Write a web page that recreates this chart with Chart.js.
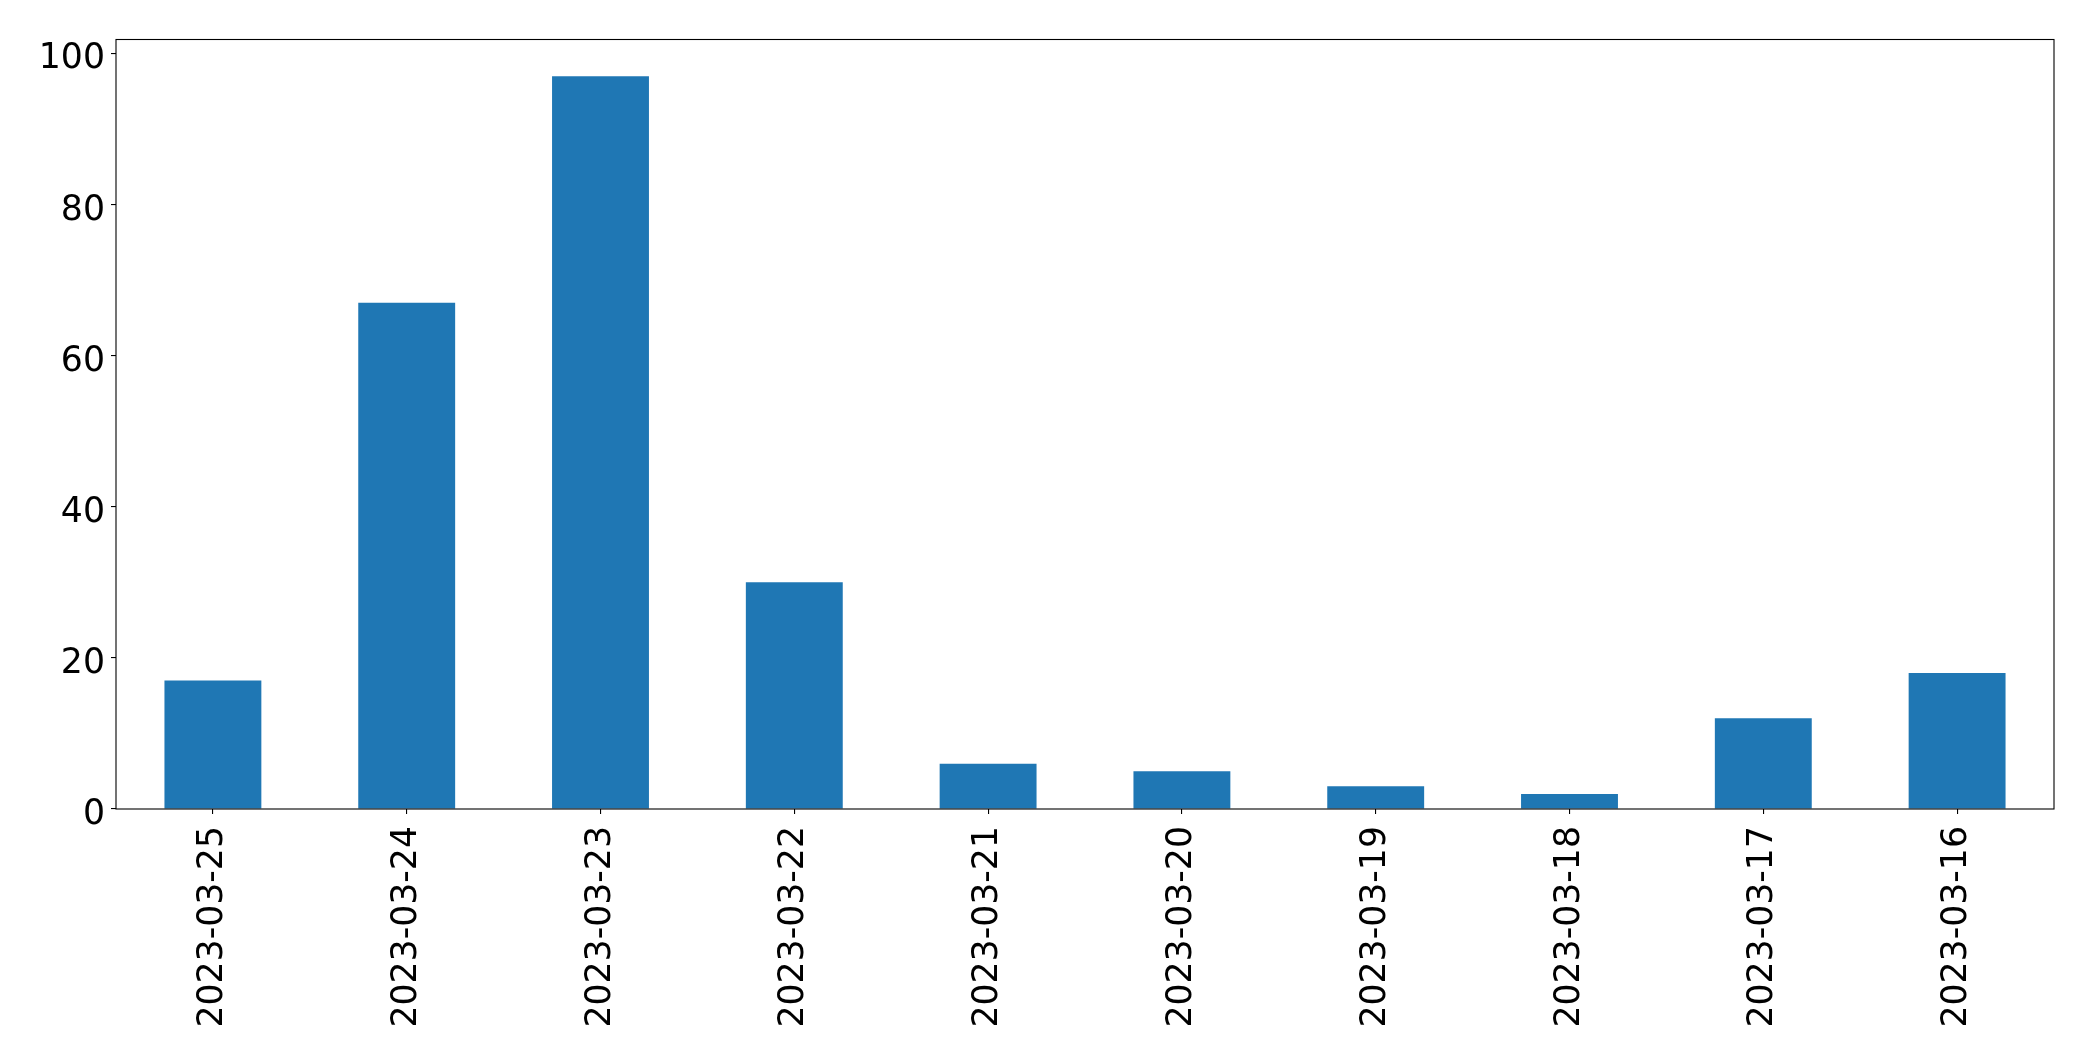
<!DOCTYPE html>
<html>
<head>
<meta charset="utf-8">
<script src="https://cdn.jsdelivr.net/npm/chart.js@4"></script>
<style>
html,body{margin:0;padding:0;background:#fff;}
#wrap{width:2093px;height:1061px;}
</style>
</head>
<body>
<div id="wrap"><canvas id="c" width="2093" height="1061"></canvas></div>
<script>
const categories = ["2023-03-25","2023-03-24","2023-03-23","2023-03-22","2023-03-21","2023-03-20","2023-03-19","2023-03-18","2023-03-17","2023-03-16"];
const counts = [17, 67, 97, 30, 6, 5, 3, 2, 12, 18];
const yTicks = [0, 20, 40, 60, 80, 100];

const FONT = {family: "'DejaVu Sans', sans-serif", size: 34.7};
const PAD = {left: 0, right: 39, top: 39.5, bottom: 0};

const frame = {
  id: 'frame',
  afterDraw(chart) {
    const a = chart.chartArea, ctx = chart.ctx;
    ctx.save();
    ctx.strokeStyle = '#000';
    ctx.lineWidth = 1.1;
    ctx.strokeRect(a.left, a.top, a.right - a.left, a.bottom - a.top);
    ctx.restore();
  }
};

new Chart(document.getElementById('c'), {
  type: 'bar',
  data: {
    labels: categories,
    datasets: [{
      data: counts,
      backgroundColor: '#1f77b4',
      borderWidth: 0,
      barPercentage: 0.5,
      categoryPercentage: 1.0
    }]
  },
  options: {
    responsive: false,
    devicePixelRatio: 1,
    animation: false,
    layout: {padding: PAD},
    plugins: {legend: {display: false}, tooltip: {enabled: false}},
    scales: {
      x: {
        offset: true,
        grid: {display: true, drawOnChartArea: false, drawTicks: true, tickLength: 5, color: '#000', offset: false, lineWidth: 1.1},
        border: {display: false},
        ticks: {color: '#000', font: FONT, maxRotation: 90, minRotation: 90, padding: 12, autoSkip: false},
        afterFit(scale) { scale.height = 1061 - 809; }
      },
      y: {
        min: 0,
        max: 101.85,
        grid: {display: true, drawOnChartArea: false, drawTicks: true, tickLength: 5, color: '#000', lineWidth: 1.1},
        border: {display: false},
        afterBuildTicks(scale) { scale.ticks = yTicks.map(v => ({value: v})); },
        ticks: {color: '#000', font: FONT, padding: 6, includeBounds: false, labelOffset: 6},
        afterFit(scale) { scale.width = 116; }
      }
    }
  },
  plugins: [frame]
});
</script>
</body>
</html>
